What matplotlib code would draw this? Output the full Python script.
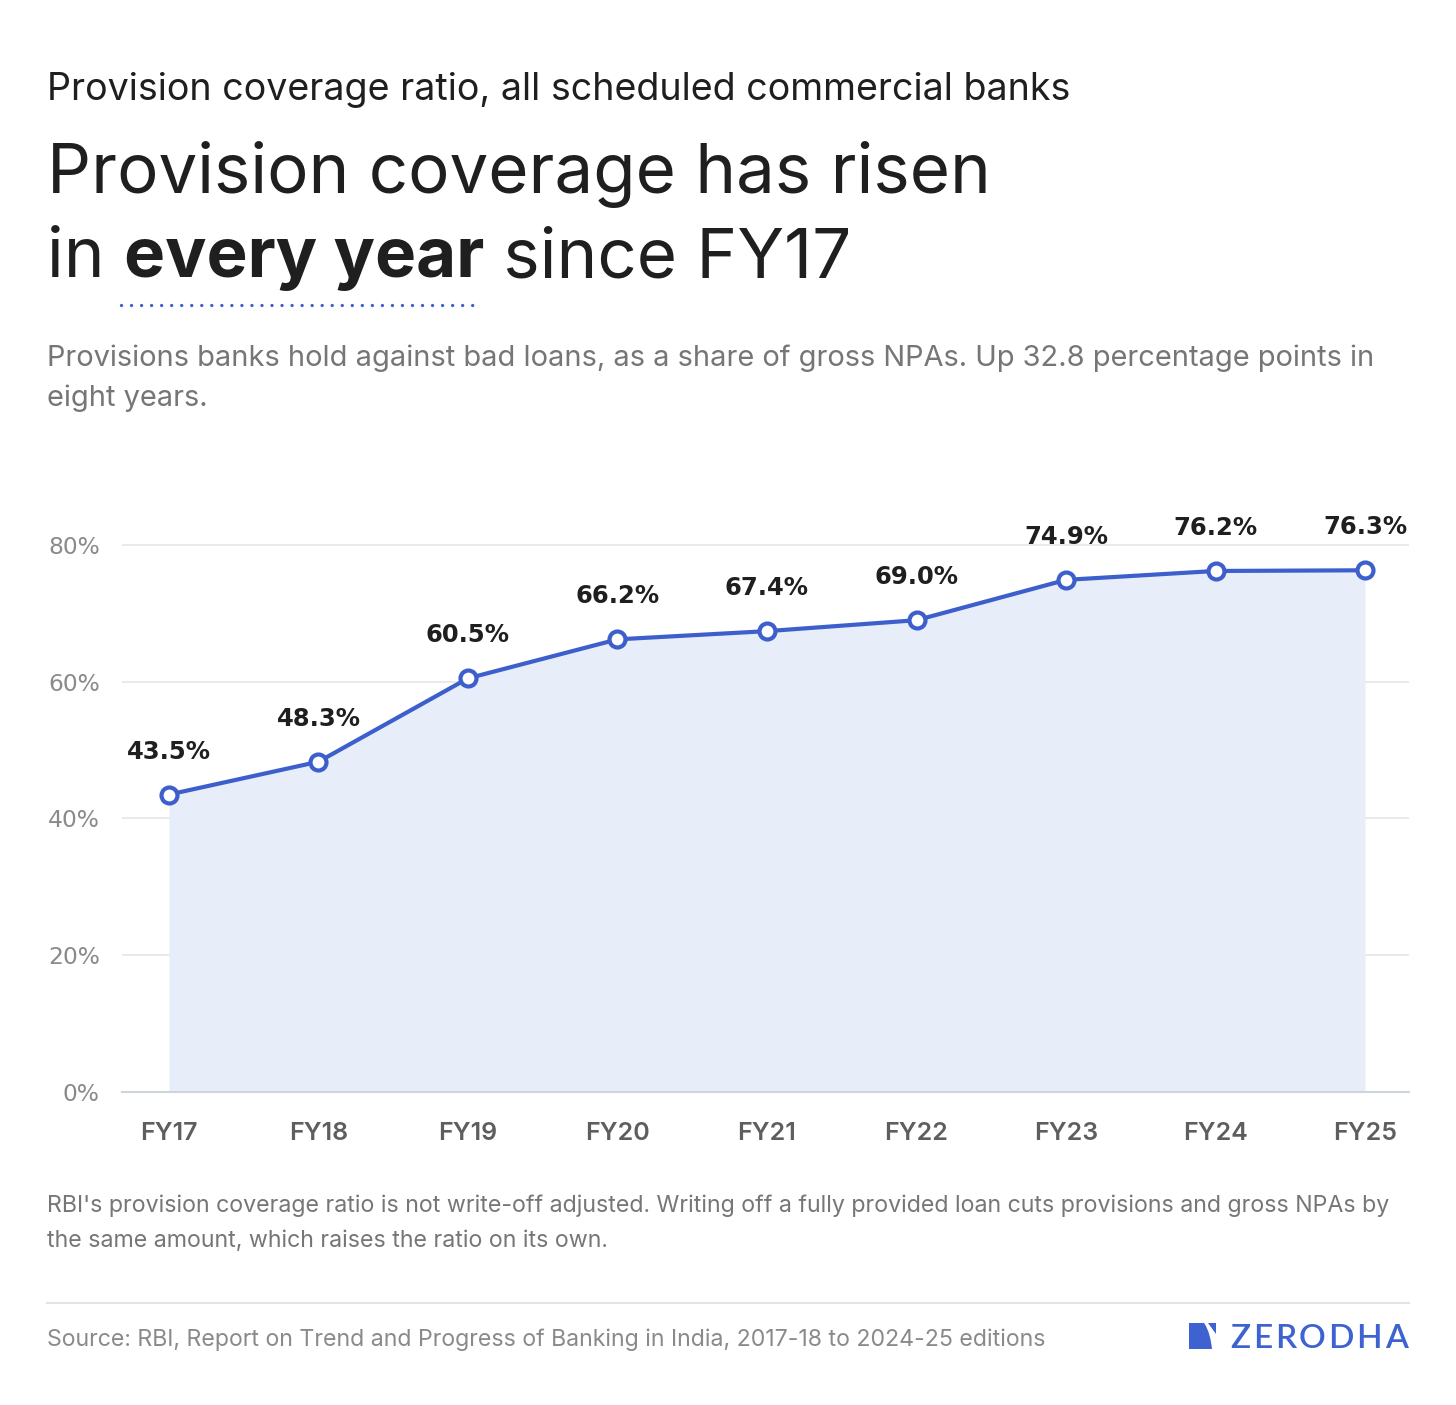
import matplotlib
matplotlib.use('Agg')
import matplotlib.pyplot as plt
from matplotlib.path import Path
from matplotlib.patches import PathPatch, Polygon

# Chart data
years = ['FY17', 'FY18', 'FY19', 'FY20', 'FY21', 'FY22', 'FY23', 'FY24', 'FY25']
pcr = [43.5, 48.3, 60.5, 66.2, 67.4, 69.0, 74.9, 76.2, 76.3]
yticks = [0, 20, 40, 60, 80]

W, H = 1456, 1405
BLUE = '#3D5FCC'
FILL = '#E8EEF9'
DARK = '#1f1f1f'
GREY = '#767676'

plt.rcParams['font.family'] = ['Inter', 'DejaVu Sans']

fig = plt.figure(figsize=(W / 100, H / 100), dpi=100)
fig.patch.set_facecolor('white')

def fy(ypix):
    # figure fraction from top pixel
    return 1 - ypix / H

def fx(xpix):
    return xpix / W

#==============================================================================
# Header text
fig.text(fx(47), fy(100), 'Provision coverage ratio, all scheduled commercial banks',
         fontsize=27.1, color=DARK, va='baseline', ha='left')
fig.text(fx(47), fy(193), 'Provision coverage has risen',
         fontsize=49.7, color=DARK, va='baseline', ha='left')

# second title line with a bold part
renderer = fig.canvas.get_renderer()
x0 = fx(47)
parts = [('in ', 'normal'), ('every year', 'bold'), (' since FY17', 'normal')]
bold_span = None
for txt, wt in parts:
    t = fig.text(x0, fy(277), txt, fontsize=49.7, color=DARK, va='baseline',
                 ha='left', fontweight=wt)
    bb = t.get_window_extent(renderer=renderer)
    if wt == 'bold':
        bold_span = (bb.x0, bb.x1)
    x0 = bb.x1 / W

# dotted underline below "every year"
fig.add_artist(plt.Line2D([(bold_span[0] - 3) / W, (bold_span[1] - 9) / W], [fy(305), fy(305)],
                          transform=fig.transFigure, color=BLUE, lw=2.4,
                          linestyle=(0, (0.01, 3.0)), dash_capstyle='round'))

fig.text(fx(47), fy(366), 'Provisions banks hold against bad loans, as a share of gross NPAs. '
         'Up 32.8 percentage points in', fontsize=20.9, color=GREY, va='baseline')
fig.text(fx(47), fy(406), 'eight years.', fontsize=20.9, color=GREY, va='baseline')

#==============================================================================
# Main chart
ax = fig.add_axes([fx(122), fy(1092), fx(1409) - fx(122), (1092 - 510.8) / H])
xs = list(range(len(years)))
ax.fill_between(xs, pcr, 0, color=FILL, lw=0, zorder=1)
ax.plot(xs, pcr, color=BLUE, lw=3, zorder=3, marker='o', markersize=11.5,
        markerfacecolor='white', markeredgecolor=BLUE, markeredgewidth=3, clip_on=False)

for x, v in zip(xs, pcr):
    ax.annotate('%.1f%%' % v, (x, v), xytext=(0, 31), textcoords='offset points',
                ha='center', va='center', fontsize=17.5, fontweight='bold',
                color=DARK, family='DejaVu Sans', zorder=4)

ax.set_xlim(-0.314, 8.294)
ax.set_ylim(0, 85)
ax.set_yticks(yticks)
ax.set_yticklabels(['%d%%' % t for t in yticks], family='DejaVu Sans', fontsize=16.8, color='#8a8a8a')
ax.set_xticks(xs)
ax.set_xticklabels(years, fontsize=18, fontweight='semibold', color='#5e5e5e')
ax.tick_params(axis='both', length=0)
ax.tick_params(axis='y', pad=16)
ax.tick_params(axis='x', pad=21.5)
ax.grid(axis='y', color='#e6e6e6', lw=1.2, zorder=0)
ax.set_axisbelow(True)
for s in ['top', 'right', 'left']:
    ax.spines[s].set_visible(False)
ax.spines['bottom'].set_color('#cfd3da')
ax.spines['bottom'].set_linewidth(1.5)

#==============================================================================
# Footnote and source
fig.text(fx(47), fy(1212), "RBI's provision coverage ratio is not write-off adjusted. Writing off a "
         "fully provided loan cuts provisions and gross NPAs by", fontsize=16.7, color=GREY, va='baseline')
fig.text(fx(47), fy(1247), 'the same amount, which raises the ratio on its own.',
         fontsize=16.7, color=GREY, va='baseline')

fig.add_artist(plt.Line2D([fx(47), fx(1409)], [fy(1303), fy(1303)],
                          transform=fig.transFigure, color='#e3e3e3', lw=1.5))

fig.text(fx(47), fy(1346), 'Source: RBI, Report on Trend and Progress of Banking in India, '
         '2017-18 to 2024-25 editions', fontsize=16.65, color='#8a8a8a', va='baseline')

# Zerodha logo
LOGO = '#3F62D1'
verts = [(1189, 1349), (1189, 1323), (1204, 1323), (1209, 1330), (1211, 1340), (1212, 1349), (1189, 1349)]
codes = [Path.MOVETO, Path.LINETO, Path.LINETO, Path.CURVE4, Path.CURVE4, Path.CURVE4, Path.CLOSEPOLY]
verts = [(fx(x), fy(y)) for x, y in verts]
fig.add_artist(PathPatch(Path(verts, codes), transform=fig.transFigure, color=LOGO, lw=0))
tri = [(1208, 1323), (1216, 1323), (1216, 1334)]
fig.add_artist(Polygon([(fx(x), fy(y)) for x, y in tri], closed=True,
                       transform=fig.transFigure, color=LOGO, lw=0))

# spread the letters of the wordmark over the reference width
word = 'ZERODHA'
lx = 1230
for ch in word:
    t = fig.text(fx(lx), fy(1348), ch, fontsize=24, color=LOGO, va='baseline', ha='left',
                 family='Lato', fontweight='semibold')
    lx = t.get_window_extent(renderer=renderer).x1 + 2.7

fig.savefig('out.png', dpi=100, facecolor='white')
